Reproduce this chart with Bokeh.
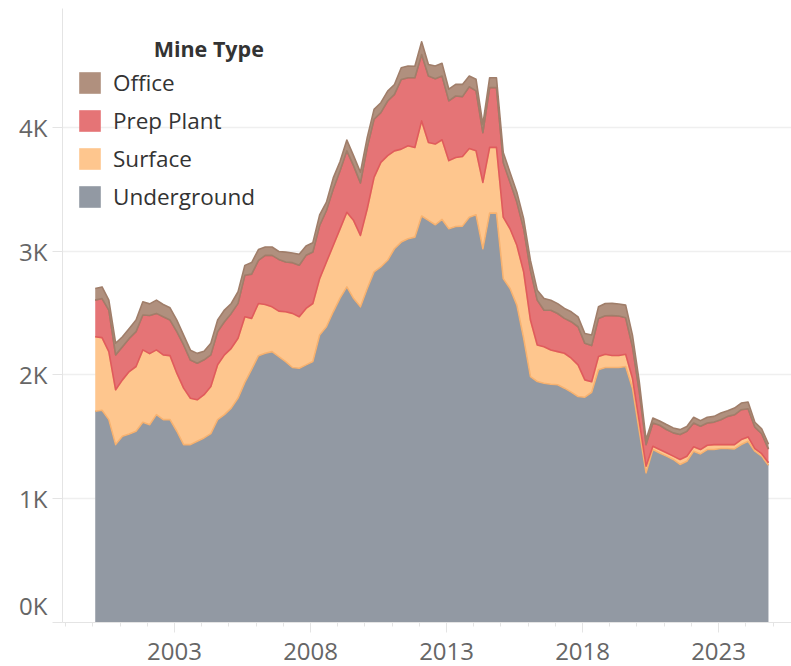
from bokeh.plotting import figure
from bokeh.models import FixedTicker, Legend, LegendItem, Label, Range1d, LinearAxis
from bokeh.embed import file_html
from bokeh.resources import INLINE

# ---------------- data (quarterly, 2000 Q1 .. 2024 Q4) ----------------
years = list(range(2000, 2025))
quarter_months = [2, 5, 8, 11]          # mid-quarter months used as the date of each quarter
quarters = [f"{y}-{m:02d}" for y in years for m in quarter_months]

underground = [1706, 1714, 1639, 1437, 1504, 1523, 1545, 1617, 1598, 1679,
               1639, 1639, 1545, 1437, 1437, 1464, 1491, 1526, 1639, 1679,
               1732, 1813, 1940, 2045, 2155, 2175, 2188, 2148, 2108, 2060,
               2054, 2081, 2108, 2322, 2389, 2510, 2620, 2711, 2617, 2550,
               2698, 2832, 2872, 2926, 3019, 3073, 3100, 3113, 3284, 3248,
               3213, 3256, 3181, 3199, 3202, 3274, 3293, 3019, 3307, 3307,
               2778, 2698, 2564, 2296, 1987, 1947, 1933, 1925, 1920, 1893,
               1861, 1826, 1820, 1860, 2041, 2060, 2060, 2060, 2068, 1893,
               1545, 1209, 1397, 1370, 1344, 1317, 1277, 1303, 1384, 1362,
               1397, 1397, 1405, 1405, 1402, 1438, 1464, 1384, 1344, 1270]

surface = [603, 587, 550, 443, 456, 504, 523, 585, 574, 523,
           523, 517, 469, 456, 375, 335, 349, 381, 443, 483,
           483, 483, 530, 412, 422, 394, 362, 367, 402, 437,
           416, 456, 469, 456, 523, 536, 560, 603, 630, 577,
           644, 764, 845, 845, 791, 751, 751, 724, 768, 630,
           652, 644, 550, 558, 563, 555, 518, 536, 531, 531,
           496, 483, 483, 536, 456, 295, 295, 276, 268, 282,
           274, 255, 140, 85, 107, 107, 97, 97, 99, 80,
           80, 54, 27, 27, 27, 27, 40, 40, 35, 35,
           35, 40, 32, 32, 35, 40, 35, 20, 20, 21]

prep_plant = [295, 316, 335, 282, 268, 268, 282, 282, 308, 295,
              308, 287, 335, 349, 308, 295, 282, 255, 268, 268,
              282, 282, 335, 357, 349, 397, 416, 418, 402, 410,
              416, 429, 416, 429, 416, 456, 469, 496, 442, 424,
              496, 469, 402, 442, 456, 563, 550, 563, 536, 536,
              528, 515, 483, 496, 483, 499, 483, 402, 483, 483,
              442, 375, 349, 349, 402, 362, 295, 322, 308, 282,
              295, 308, 295, 292, 308, 311, 322, 319, 295, 255,
              241, 174, 188, 196, 188, 188, 201, 201, 193, 188,
              180, 182, 201, 228, 241, 241, 228, 174, 161, 110]

office = [94, 94, 80, 94, 80, 80, 94, 107, 94, 107,
          99, 99, 94, 80, 80, 80, 70, 94, 94, 94,
          80, 94, 80, 94, 87, 67, 67, 64, 80, 78,
          88, 75, 75, 86, 67, 90, 75, 88, 80, 86,
          80, 80, 80, 80, 80, 94, 94, 94, 103, 94,
          102, 102, 94, 94, 99, 86, 94, 67, 80, 80,
          80, 80, 80, 80, 80, 80, 94, 80, 80, 80,
          80, 80, 80, 86, 94, 99, 99, 97, 102, 94,
          80, 40, 40, 35, 40, 40, 40, 40, 46, 46,
          46, 46, 54, 46, 54, 54, 54, 40, 40, 40]

series_names = ["Underground", "Surface", "Prep Plant", "Office"]
fill_colors = ["#9299a3", "#fec68e", "#e57476", "#b0907e"]
line_colors = ["#878e99", "#f7b270", "#e05b5d", "#a07e6a"]

x_tick_years = [2003, 2008, 2013, 2018, 2023]
minor_tick_years = list(range(1999, 2026))
y_tick_values = [0, 1000, 2000, 3000, 4000]
y_tick_labels = ["0K", "1K", "2K", "3K", "4K"]

# ---------------- figure ----------------
x = [int(q[:4]) + (int(q[5:]) - 1) / 12 for q in quarters]

FONT = "Open Sans"
p = figure(width=791, height=666, output_backend="svg", toolbar_location=None,
           x_range=Range1d(1998.88, 2025.68), y_range=Range1d(0, 4960))
p.min_border_left = 62
p.min_border_top = 8
p.min_border_right = 0
p.min_border_bottom = 44
p.outline_line_color = None
p.background_fill_color = "white"

values = [underground, surface, prep_plant, office]
lower = [0] * len(x)
renderers = {}
for name, vals, fc, lc in zip(series_names, values, fill_colors, line_colors):
    upper = [a + b for a, b in zip(lower, vals)]
    r = p.varea(x=x, y1=lower, y2=upper, fill_color=fc, fill_alpha=1.0)
    renderers[name] = r
    if any(v > 0 for v in lower):
        p.line(x=x, y=lower, line_color=lc, line_width=1.6, line_join="round")
    p.line(x=x, y=upper, line_color=lc, line_width=1.6, line_join="round")
    lower = upper

# ---------------- axes ----------------
axis_color = "#e4e4e4"
p.xaxis.ticker = FixedTicker(ticks=x_tick_years, minor_ticks=minor_tick_years)
p.xaxis.major_label_overrides = {yv: str(yv) for yv in x_tick_years}
p.xaxis.axis_line_color = axis_color
p.xaxis.major_tick_line_color = axis_color
p.xaxis.minor_tick_line_color = axis_color
p.xaxis.major_tick_in = 0
p.xaxis.minor_tick_in = 0
p.xaxis.major_tick_out = 10
p.xaxis.minor_tick_out = 4
p.xaxis.major_label_standoff = 10
p.xaxis.major_label_text_font = FONT
p.xaxis.major_label_text_font_size = "24px"
p.xaxis.major_label_text_color = "#666666"

# inner y axis: axis line and tick marks only
p.yaxis.ticker = FixedTicker(ticks=y_tick_values)
p.yaxis.major_label_overrides = {v: "" for v in y_tick_values}
p.yaxis.axis_line_color = axis_color
p.yaxis.major_tick_line_color = axis_color
p.yaxis.minor_tick_line_color = None
p.yaxis.major_tick_in = 0
p.yaxis.major_tick_out = 10
p.yaxis.major_label_standoff = 0
p.yaxis.major_label_text_font_size = "1px"

# outer y axis: the labels; the lowest label sits just above the axis line as in the original
zero_label_lift = 140
label_ticks = [v if v > 0 else v + zero_label_lift for v in y_tick_values]
label_axis = LinearAxis(
    ticker=FixedTicker(ticks=label_ticks),
    major_label_overrides=dict(zip(label_ticks, y_tick_labels)),
    axis_line_color=None, major_tick_line_color=None, minor_tick_line_color=None,
    major_tick_in=0, major_tick_out=0, major_label_standoff=5,
    major_label_text_font=FONT, major_label_text_font_size="24px",
    major_label_text_color="#666666",
)
p.add_layout(label_axis, "left")

p.xgrid.visible = False
p.ygrid.ticker = FixedTicker(ticks=y_tick_values)
p.ygrid.grid_line_color = "#efefef"
p.ygrid.grid_line_width = 1.5

# ---------------- legend ----------------
legend = Legend(
    items=[LegendItem(label=n, renderers=[renderers[n]]) for n in ["Office", "Prep Plant", "Surface", "Underground"]],
    location=(14, 410),
    orientation="vertical",
    glyph_width=27, glyph_height=27,
    label_standoff=10, spacing=7, padding=0, margin=0,
    border_line_color=None, background_fill_alpha=0,
    label_text_font=FONT, label_text_font_size="22.5px", label_text_color="#333333",
)
p.add_layout(legend)

title = Label(x=2002.23, y=4638, text="Mine Type", text_align="left", text_baseline="alphabetic",
              text_font=FONT, text_font_size="21.5px", text_font_style="bold", text_color="#333333")
p.add_layout(title)

open("out.html", "w").write(file_html(p, INLINE))
